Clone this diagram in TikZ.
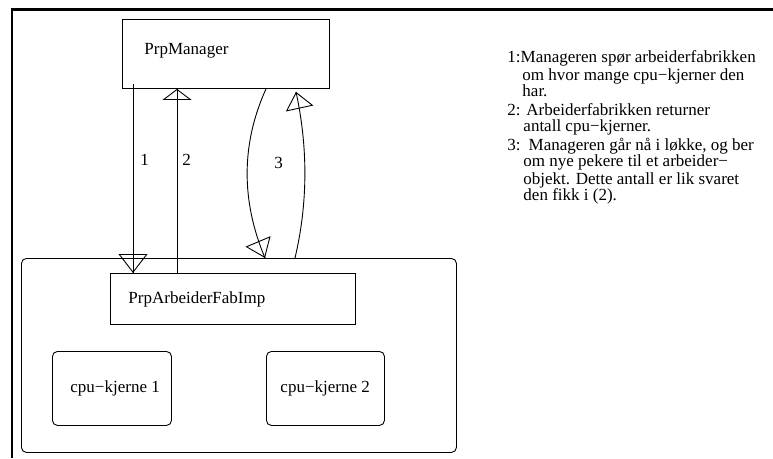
\documentclass[tikz,border=0pt]{standalone}
\usepackage{fontspec}
\setmainfont{Liberation Serif}
\usetikzlibrary{arrows.meta,decorations.markings}
\begin{document}
\begin{tikzpicture}[x=1pt,y=-1pt,
  font=\fontsize{17}{17.3}\selectfont,
  line width=0.9pt,
  box/.style={draw, anchor=north west, inner sep=0pt, line width=0.9pt},
  rbox/.style={box, rounded corners=5pt},
  lbl/.style={anchor=base west, inner sep=0pt},
  head/.style n args={2}{postaction={decorate, decoration={markings,
     mark=at position 1 with {\arrow[line width=0.9pt]{Triangle[open, length=#1, width=#2]}}}}}
]
\useasboundingbox (0,0) rectangle (773,458);
% frame (top and left only)
\draw[line width=2.7pt] (773,9.3) -- (12,9.3) -- (12,458);

% boxes
\node[box, minimum width=207pt, minimum height=69pt] (mgr) at (122,19) {};
\node[rbox, minimum width=435pt, minimum height=194pt] (outer) at (21,258) {};
\node[box, minimum width=245pt, minimum height=51pt] (fab) at (110,273) {};
\node[rbox, minimum width=119pt, minimum height=74pt] (cpu1) at (52,351) {};
\node[rbox, minimum width=118pt, minimum height=74pt] (cpu2) at (266,351) {};

% box texts
\node[lbl] (mgrlabel) at (144,54) {PrpManager};
\node[lbl] (fablabel) at (128,303) {PrpArbeiderFabImp};
\node[lbl] (cpu1label) at (70,392) {cpu−kjerne 1};
\node[lbl] (cpu2label) at (280,392) {cpu−kjerne 2};

% connectors
\draw[head={19pt}{29pt}] ([xshift=11pt,yshift=5pt]mgr.south west) -- ([xshift=23pt]fab.north west);
\draw[head={11pt}{29pt}] ([xshift=67pt]fab.north west) -- ([xshift=55pt]mgr.south west);
\draw[head={18pt}{27pt}] ([xshift=144pt]mgr.south west) .. controls (241,144) and (241,201) .. ([xshift=244pt]outer.north west);
\draw[head={17pt}{28pt}] ([xshift=274pt]outer.north west) .. controls (308,203) and (308,147) .. ([xshift=174pt,yshift=-3pt]mgr.south west);

% connector labels
\node[lbl] (l1) at (140,165) {1};
\node[lbl] (l2) at (182,165) {2};
\node[lbl] (l3) at (274,168) {3};

% notes
\node[lbl] (t1) at (507,62.7) {1:Manageren spør arbeiderfabrikken};
\node[lbl] (t2) at (522,80) {om hvor mange cpu−kjerner den};
\node[lbl] (t3) at (522,96.7) {har.};
\node[lbl] (t4) at (507,115) {2: Arbeiderfabrikken returner};
\node[lbl] (t5) at (523,131.7) {antall cpu−kjerner.};
\node[lbl] (t6) at (507,150) {3:\hspace{8pt}Manageren går nå i løkke, og ber};
\node[lbl] (t7) at (523,166.7) {om nye pekere til et arbeider−};
\node[lbl] (t8) at (523,184) {objekt. Dette antall er lik svaret};
\node[lbl] (t9) at (523,200.5) {den fikk i (2).};
\end{tikzpicture}
\end{document}
